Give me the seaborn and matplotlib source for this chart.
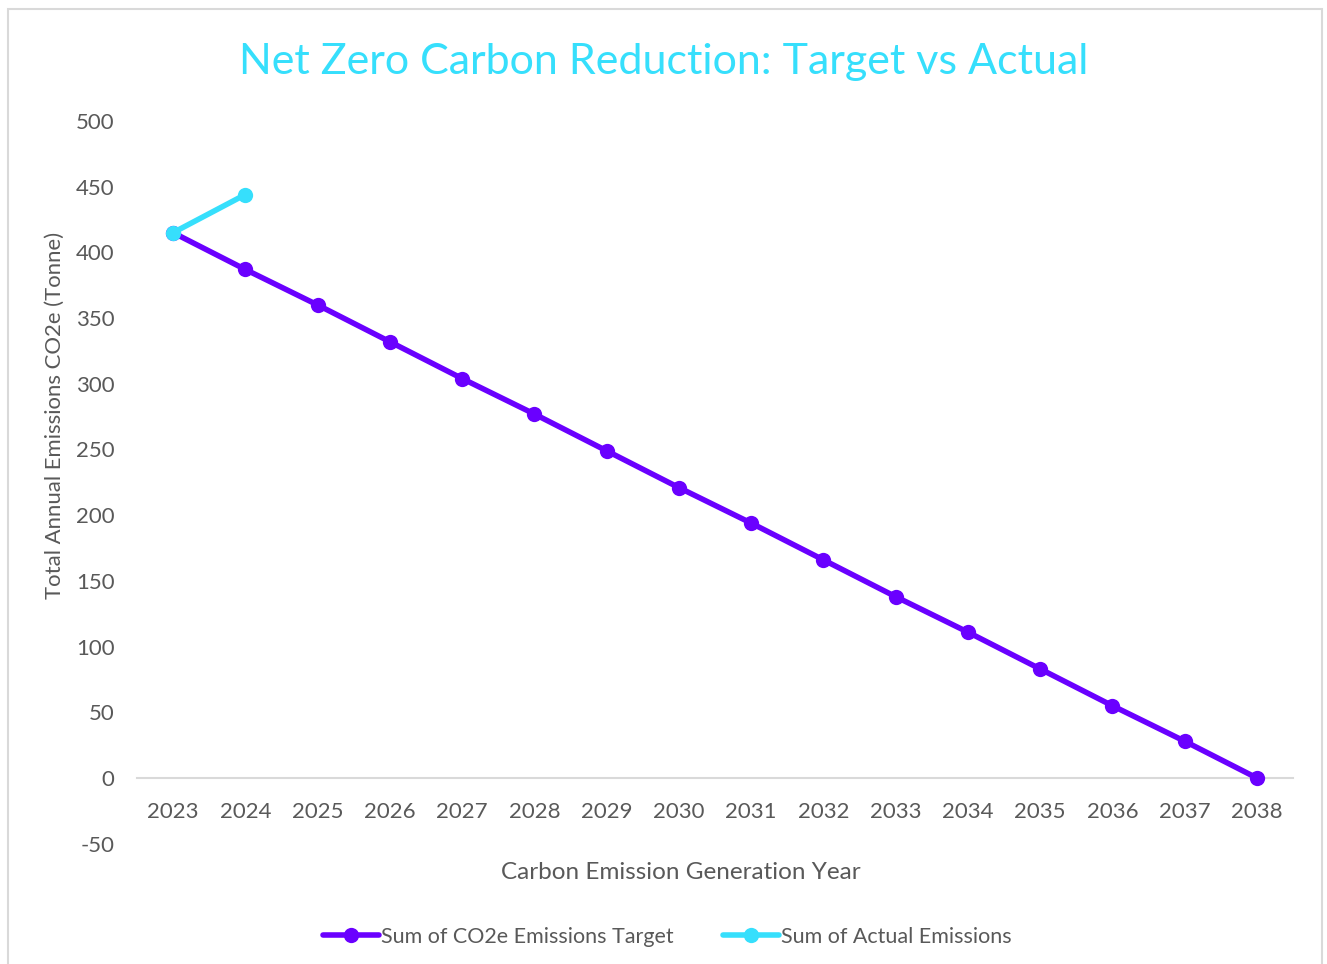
import matplotlib as mpl
import matplotlib.pyplot as plt
import seaborn as sns
import pandas as pd
from matplotlib.patches import Rectangle

mpl.use('agg')

# Chart values
years = [2023, 2024, 2025, 2026, 2027, 2028, 2029, 2030,
         2031, 2032, 2033, 2034, 2035, 2036, 2037, 2038]
target = [415, 387, 360, 332, 304, 277, 249, 221,
          194, 166, 138, 111, 83, 55, 28, 0]
actual_years = [2023, 2024]
actual = [415, 444]

target_name = 'Sum of CO2e Emissions Target'
actual_name = 'Sum of Actual Emissions'

purple = '#6A00FF'
cyan = '#36DFFC'
grey_text = '#595959'

# Long-form table for seaborn
df = pd.concat([
    pd.DataFrame({'Year': years, 'Emissions': target, 'Series': target_name}),
    pd.DataFrame({'Year': actual_years, 'Emissions': actual, 'Series': actual_name}),
])

sns.set_style('white')
plt.rcParams['font.family'] = ['Lato', 'DejaVu Sans']
plt.rcParams['axes.unicode_minus'] = False

fig = plt.figure(figsize=(13.27, 9.64), dpi=100)
ax = fig.add_axes([0.1032, 0.1248, 0.8712, 0.7497])

sns.lineplot(data=df, x='Year', y='Emissions', hue='Series',
             palette={target_name: purple, actual_name: cyan},
             marker='o', markersize=11, markeredgewidth=0,
             linewidth=4, ax=ax, legend=True)

ax.set_xlim(2022.5, 2038.5)
ax.set_ylim(-50, 500)
ax.set_xticks(years)
ax.set_xticklabels([str(y) for y in years])
ax.set_yticks(range(-50, 501, 50))
ax.tick_params(axis='both', length=0, labelsize=16, colors=grey_text)
ax.tick_params(axis='x', pad=17)
ax.tick_params(axis='y', pad=16)

# only the zero line is shown; x tick labels hang below it
for s in ax.spines.values():
    s.set_visible(False)
ax.spines['bottom'].set_visible(True)
ax.spines['bottom'].set_position(('data', 0))
ax.spines['bottom'].set_color('#D9D9D9')
ax.spines['bottom'].set_linewidth(1.5)
ax.spines['bottom'].set_zorder(0)

ax.set_xlabel('')
ax.set_ylabel('Total Annual Emissions CO2e (Tonne)', fontsize=15.9,
              color=grey_text)
ax.yaxis.set_label_coords(-0.062, 0.593)

fig.text(0.513, 0.095, 'Carbon Emission Generation Year', fontsize=17.5,
         color=grey_text, ha='center', va='center')
fig.text(0.5, 0.936, 'Net Zero Carbon Reduction: Target vs Actual',
         fontsize=31, color=cyan, ha='center', va='center')

handles, labels = ax.get_legend_handles_labels()
ax.get_legend().remove()
fig.legend(handles, labels, loc='center', bbox_to_anchor=(0.503, 0.028),
           ncol=2, frameon=False, fontsize=15.5, labelcolor=grey_text,
           handlelength=2.6, handletextpad=0.1, columnspacing=2.3)

# Chart area border
fig.patches.append(Rectangle((8 / 1327, -0.05), 1314 / 1327, 1.05 - 9 / 964,
                             transform=fig.transFigure, fill=False,
                             edgecolor='#D9D9D9', linewidth=1.5))

fig.savefig('out.png', dpi=100)
